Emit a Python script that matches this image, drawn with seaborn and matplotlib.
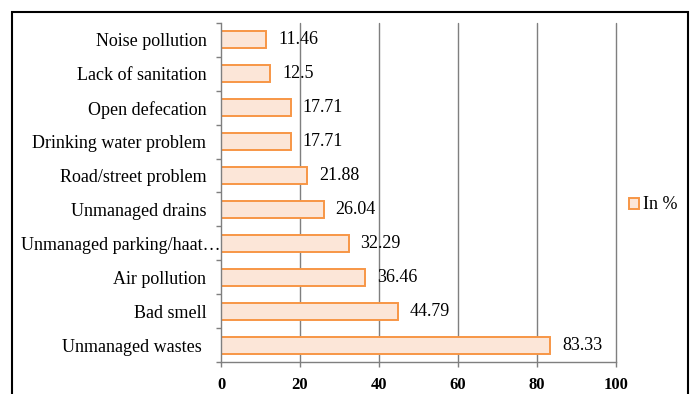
import matplotlib
matplotlib.use("Agg")
import matplotlib.pyplot as plt
import matplotlib.transforms as mtransforms
import seaborn as sns
import pandas as pd
from matplotlib.patches import Rectangle

categories = [
    "Noise pollution",
    "Lack of sanitation",
    "Open defecation",
    "Drinking water problem",
    "Road/street problem",
    "Unmanaged drains",
    "Unmanaged parking/haat\u2026",
    "Air pollution",
    "Bad smell",
    "Unmanaged wastes ",
]
values = [11.46, 12.5, 17.71, 17.71, 21.88, 26.04, 32.29, 36.46, 44.79, 83.33]
value_labels = ["11.46", "12.5", "17.71", "17.71", "21.88", "26.04", "32.29", "36.46", "44.79", "83.33"]
x_ticks = [0, 20, 40, 60, 80, 100]
series_name = "In %"

sns.set_theme(style="white")
plt.rcParams["font.family"] = ["Liberation Serif", "DejaVu Serif"]
plt.rcParams["text.color"] = "black"
plt.rcParams["xtick.labelcolor"] = "black"
plt.rcParams["ytick.labelcolor"] = "black"

df = pd.DataFrame({"issue": categories, "pct": values})

fig = plt.figure(figsize=(6.92, 3.94), dpi=100)
ax = fig.add_axes([221 / 692, 1 - 362 / 394, (616 - 221) / 692, (362 - 23) / 394])

sns.barplot(data=df, x="pct", y="issue", order=categories, orient="h",
            color="#FCE6D8", edgecolor="#F79646", linewidth=1.4,
            width=0.5, saturation=1, label=series_name, ax=ax)

ax.set_xlim(0, 100)
ax.set_ylim(len(categories) - 0.5, -0.5)
ax.set_xticks(x_ticks)
ax.set_xticklabels([str(t) for t in x_ticks], fontsize=12, fontweight="bold", color="black")
ax.set_xlabel("")
ax.set_ylabel("")

# vertical gridlines
ax.grid(False)
for t in x_ticks[1:]:
    ax.axvline(t, color="#7f7f7f", linewidth=1.0, zorder=0, clip_on=False)

# value labels beside each bar
for i, (v, s) in enumerate(zip(values, value_labels)):
    ax.text(v + 3.0, i, s, va="center", ha="left", fontsize=13, color="black")

# category ticks sit between bars
ax.set_yticks(range(len(categories)))
ax.set_yticklabels(categories, fontsize=13, color="black")
ax.tick_params(axis="y", length=0, pad=10.5)
ax.set_yticks([i + 0.5 for i in range(-1, len(categories))], minor=True)
ax.tick_params(axis="y", which="minor", length=3.5, color="#7f7f7f", width=1.0, direction="out", left=True)
ax.tick_params(axis="x", length=3.5, color="#7f7f7f", width=1.0, direction="out", bottom=True, pad=7)

# the truncated label lets its ellipsis run up to the axis
for lbl in ax.get_yticklabels():
    if lbl.get_text().endswith("\u2026"):
        lbl.set_transform(lbl.get_transform() +
                          mtransforms.ScaledTranslation(14 / 100, 0, fig.dpi_scale_trans))

for side in ["top", "right"]:
    ax.spines[side].set_visible(False)
for side in ["left", "bottom"]:
    ax.spines[side].set_color("#7f7f7f")
    ax.spines[side].set_linewidth(1.0)

ax.legend(loc="center left", bbox_to_anchor=(629 / 692, 1 - 205 / 394),
          bbox_transform=fig.transFigure, frameon=False, fontsize=13,
          handlelength=0.55, handleheight=0.55, handletextpad=0.25,
          borderpad=0, borderaxespad=0, labelcolor="black")

# outer frame around the chart
fig.patches.append(Rectangle((12 / 692, -0.05), (688 - 12) / 692, 1 - 12 / 394 + 0.05,
                             transform=fig.transFigure, fill=False,
                             edgecolor="black", linewidth=1.5, zorder=10))

fig.savefig("out.png", dpi=100)
